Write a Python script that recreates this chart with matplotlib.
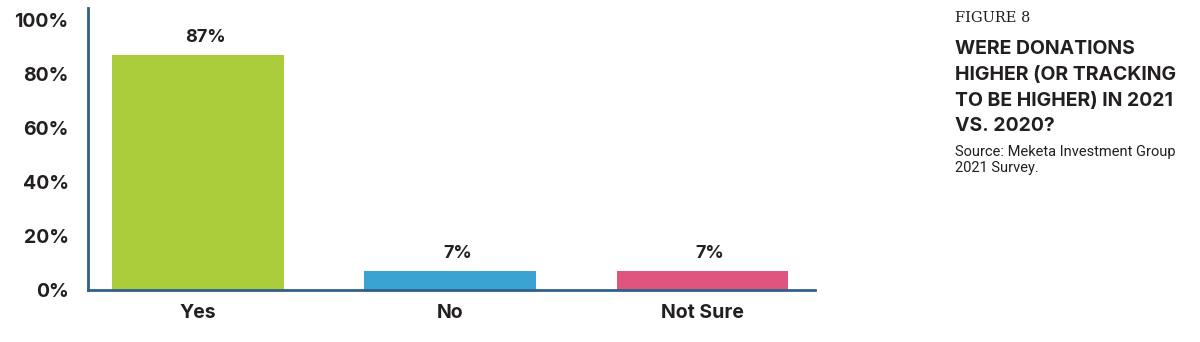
import matplotlib
matplotlib.use("Agg")
from matplotlib import pyplot as plt

categories = ["Yes", "No", "Not Sure"]
values = [87, 7, 7]
value_labels = ["87%", "7%", "7%"]
bar_colors = ["#abcd3b", "#3ba3d1", "#e0557f"]
y_ticks = [0, 20, 40, 60, 80, 100]
y_tick_labels = ["0%", "20%", "40%", "60%", "80%", "100%"]

TEXT = "#231f20"
AXIS = "#2e6089"

plt.rcParams['font.family'] = ['Inter', 'DejaVu Sans']

fig = plt.figure(figsize=(12, 3.42), dpi=100)
ax = fig.add_axes([0.0733, 0.152, 0.606, 0.825])

x = range(len(categories))
ax.bar(x, values, width=0.68, color=bar_colors, zorder=2)

for xi, v, lab in zip(x, values, value_labels):
    ax.text(xi + 0.03, v + 3.5, lab, ha="center", va="bottom",
            fontsize=13, fontweight="bold", color=TEXT)

ax.set_xlim(-0.437, 2.448)
ax.set_ylim(0, 104.5)
ax.set_yticks(y_ticks)
ax.set_yticklabels(y_tick_labels)
ax.set_xticks(list(x))
ax.set_xticklabels(categories)

ax.tick_params(axis="y", length=0, pad=14, labelsize=14, labelcolor=TEXT)
ax.tick_params(axis="x", length=0, pad=10, labelsize=14, labelcolor=TEXT)
for lab in ax.get_yticklabels() + ax.get_xticklabels():
    lab.set_fontweight("bold")

for side in ("top", "right"):
    ax.spines[side].set_visible(False)
for side in ("left", "bottom"):
    ax.spines[side].set_color(AXIS)
    ax.spines[side].set_linewidth(2)

# side caption
fig.text(0.796, 0.935, "FIGURE 8", family="DejaVu Serif", fontsize=10.5,
         color=TEXT, va="baseline")
title_lines = ["WERE DONATIONS", "HIGHER (OR TRACKING",
               "TO BE HIGHER) IN 2021", "VS. 2020?"]
for i, line in enumerate(title_lines):
    fig.text(0.796, 0.842 - i * 0.0755, line, fontsize=14, fontweight="bold",
             color=TEXT, va="baseline")
fig.text(0.796, 0.545, "Source: Meketa Investment Group", fontsize=10.5,
         family="Roboto", color=TEXT, va="baseline")
fig.text(0.796, 0.497, "2021 Survey.", fontsize=10.5, family="Roboto",
         color=TEXT, va="baseline")

fig.savefig("out.png", dpi=100)
